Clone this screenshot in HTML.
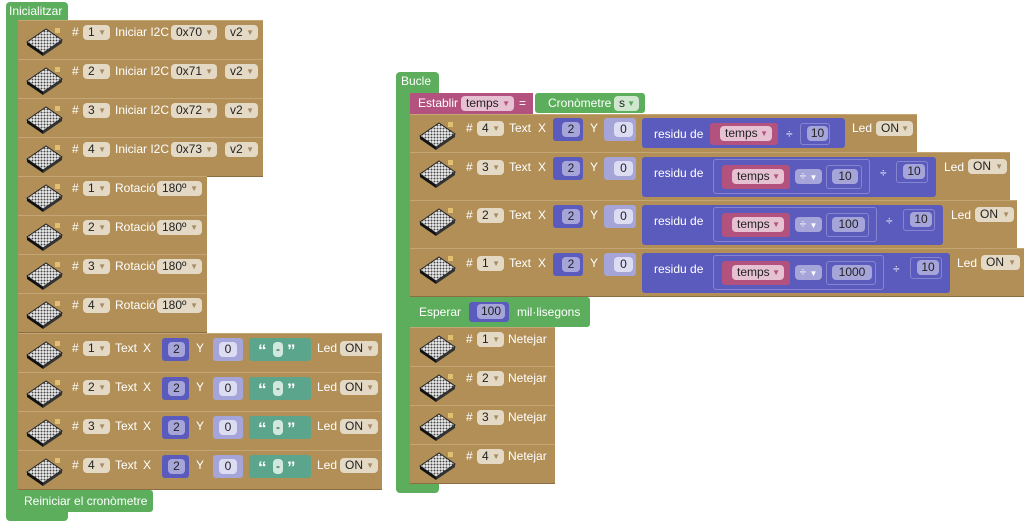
<!DOCTYPE html>
<html><head><meta charset="utf-8"><style>
body{margin:0;width:1024px;height:522px;background:#fff;position:relative;overflow:hidden;font-family:"Liberation Sans",sans-serif;font-size:12px;}
div{position:absolute;box-sizing:border-box;}
.g{background:#5cae5c;}
.br{background:#b18f57;border-bottom:1px solid #8a6e42;border-top:1px solid #c4a574;}
.t{color:#fff;white-space:nowrap;line-height:14px;}
.dd{background:#e4d9c4;color:#222;border-radius:4px;height:15px;line-height:15px;padding-left:5px;white-space:nowrap;}
.dd i{font-style:normal;color:#a58c67;font-size:8px;position:absolute;right:4px;top:0;}
.px{background:#5b5bbd;border-radius:3px;}
.lp{background:#a5a5d9;border-radius:3px;}
.in{background:#dcdcf3;color:#222;border-radius:4px;height:15px;line-height:15px;text-align:center;}
.pk{background:#b4527f;border-radius:3px;}
.pdd{background:#e6c1d2;color:#222;border-radius:4px;height:15px;line-height:15px;padding-left:5px;}
.pdd i{font-style:normal;color:#b4527f;font-size:8px;position:absolute;right:4px;top:0;}
.box{border:1px solid #8585cf;border-radius:3px;}
.tg{background:#5ba58c;border-radius:3px;}
.q{color:#fff;font-size:17px;font-weight:bold;line-height:14px;}
.ic{position:absolute;width:38px;height:32px;}
</style></head><body>
<svg width="0" height="0" style="position:absolute"><defs>
<pattern id="dp" width="3" height="3" patternUnits="userSpaceOnUse"><rect width="3" height="3" fill="#eee"/><circle cx="1.5" cy="1.5" r="1" fill="#444"/></pattern>
<symbol id="ic" viewBox="0 0 38 32"><polygon points="2,18 21,5 37,16 18,29" fill="url(#dp)" stroke="#222" stroke-width="1"/><polygon points="2,18 18,29 18,32 2,21" fill="#111"/><polygon points="18,29 37,16 37,19 18,32" fill="#333"/><rect x="30" y="4" width="5" height="5" fill="#e0c070"/></symbol>
</defs></svg>

<!-- LEFT: Inicialitzar -->
<div class="g" style="left:6px;top:2px;width:62px;height:20px;border-radius:4px 4px 0 0"></div>
<div class="t" style="left:9px;top:4px">Inicialitzar</div>
<div class="g" style="left:6px;top:20px;width:12px;height:500px;border-radius:0 0 0 4px"></div>
<div class="g" style="left:6px;top:511px;width:62px;height:10px;border-radius:0 0 4px 4px"></div>

<div class="br" style="left:18px;top:20px;width:245px;height:40px"></div>
<div class="br" style="left:18px;top:59px;width:245px;height:40px"></div>
<div class="br" style="left:18px;top:98px;width:245px;height:40px"></div>
<div class="br" style="left:18px;top:137px;width:245px;height:40px"></div>
<div class="br" style="left:18px;top:176px;width:189px;height:40px"></div>
<div class="br" style="left:18px;top:215px;width:189px;height:40px"></div>
<div class="br" style="left:18px;top:254px;width:189px;height:40px"></div>
<div class="br" style="left:18px;top:293px;width:189px;height:40px"></div>
<div class="br" style="left:18px;top:333px;width:364px;height:40px"></div>
<div class="br" style="left:18px;top:372px;width:364px;height:40px"></div>
<div class="br" style="left:18px;top:411px;width:364px;height:40px"></div>
<div class="br" style="left:18px;top:450px;width:364px;height:40px"></div>
<div class="g" style="left:18px;top:490px;width:135px;height:22px;border-radius:0 3px 3px 0"></div>
<div class="t" style="left:24px;top:494px">Reiniciar el cronòmetre</div>

<svg class="ic" style="left:25px;top:24px"><use href="#ic"/></svg>
<svg class="ic" style="left:25px;top:63px"><use href="#ic"/></svg>
<svg class="ic" style="left:25px;top:102px"><use href="#ic"/></svg>
<svg class="ic" style="left:25px;top:141px"><use href="#ic"/></svg>
<svg class="ic" style="left:25px;top:180px"><use href="#ic"/></svg>
<svg class="ic" style="left:25px;top:219px"><use href="#ic"/></svg>
<svg class="ic" style="left:25px;top:258px"><use href="#ic"/></svg>
<svg class="ic" style="left:25px;top:297px"><use href="#ic"/></svg>
<svg class="ic" style="left:25px;top:337px"><use href="#ic"/></svg>
<svg class="ic" style="left:25px;top:376px"><use href="#ic"/></svg>
<svg class="ic" style="left:25px;top:415px"><use href="#ic"/></svg>
<svg class="ic" style="left:25px;top:454px"><use href="#ic"/></svg>

<div class="t" style="left:72px;top:25px">#</div><div class="dd" style="left:83px;top:25px;width:27px">1<i>▼</i></div><div class="t" style="left:115px;top:25px">Iniciar I2C</div><div class="dd" style="left:171px;top:25px;width:46px">0x70<i>▼</i></div><div class="dd" style="left:225px;top:25px;width:33px">v2<i>▼</i></div>
<div class="t" style="left:72px;top:64px">#</div><div class="dd" style="left:83px;top:64px;width:27px">2<i>▼</i></div><div class="t" style="left:115px;top:64px">Iniciar I2C</div><div class="dd" style="left:171px;top:64px;width:46px">0x71<i>▼</i></div><div class="dd" style="left:225px;top:64px;width:33px">v2<i>▼</i></div>
<div class="t" style="left:72px;top:103px">#</div><div class="dd" style="left:83px;top:103px;width:27px">3<i>▼</i></div><div class="t" style="left:115px;top:103px">Iniciar I2C</div><div class="dd" style="left:171px;top:103px;width:46px">0x72<i>▼</i></div><div class="dd" style="left:225px;top:103px;width:33px">v2<i>▼</i></div>
<div class="t" style="left:72px;top:142px">#</div><div class="dd" style="left:83px;top:142px;width:27px">4<i>▼</i></div><div class="t" style="left:115px;top:142px">Iniciar I2C</div><div class="dd" style="left:171px;top:142px;width:46px">0x73<i>▼</i></div><div class="dd" style="left:225px;top:142px;width:33px">v2<i>▼</i></div>

<div class="t" style="left:72px;top:181px">#</div><div class="dd" style="left:83px;top:181px;width:27px">1<i>▼</i></div><div class="t" style="left:115px;top:181px">Rotació</div><div class="dd" style="left:157px;top:181px;width:45px">180º<i>▼</i></div>
<div class="t" style="left:72px;top:220px">#</div><div class="dd" style="left:83px;top:220px;width:27px">2<i>▼</i></div><div class="t" style="left:115px;top:220px">Rotació</div><div class="dd" style="left:157px;top:220px;width:45px">180º<i>▼</i></div>
<div class="t" style="left:72px;top:259px">#</div><div class="dd" style="left:83px;top:259px;width:27px">3<i>▼</i></div><div class="t" style="left:115px;top:259px">Rotació</div><div class="dd" style="left:157px;top:259px;width:45px">180º<i>▼</i></div>
<div class="t" style="left:72px;top:298px">#</div><div class="dd" style="left:83px;top:298px;width:27px">4<i>▼</i></div><div class="t" style="left:115px;top:298px">Rotació</div><div class="dd" style="left:157px;top:298px;width:45px">180º<i>▼</i></div>

<div class="t" style="left:72px;top:341px">#</div><div class="dd" style="left:83px;top:341px;width:27px">1<i>▼</i></div><div class="t" style="left:115px;top:341px">Text</div><div class="t" style="left:143px;top:341px">X</div>
<div class="px" style="left:162px;top:338px;width:27px;height:23px"></div><div class="in" style="left:168px;top:342px;width:17px;background:#a5a5d9">2</div>
<div class="t" style="left:196px;top:341px">Y</div><div class="lp" style="left:213px;top:338px;width:30px;height:23px"></div><div class="in" style="left:219px;top:342px;width:18px">0</div>
<div class="tg" style="left:249px;top:338px;width:62px;height:23px"></div><div class="q" style="left:258px;top:344px">“</div><div class="in" style="left:273px;top:342px;width:10px;background:#cfe9df">-</div><div class="q" style="left:287px;top:344px">”</div>
<div class="t" style="left:317px;top:341px">Led</div><div class="dd" style="left:340px;top:341px;width:38px">ON<i>▼</i></div>

<div class="t" style="left:72px;top:380px">#</div><div class="dd" style="left:83px;top:380px;width:27px">2<i>▼</i></div><div class="t" style="left:115px;top:380px">Text</div><div class="t" style="left:143px;top:380px">X</div>
<div class="px" style="left:162px;top:377px;width:27px;height:23px"></div><div class="in" style="left:168px;top:381px;width:17px;background:#a5a5d9">2</div>
<div class="t" style="left:196px;top:380px">Y</div><div class="lp" style="left:213px;top:377px;width:30px;height:23px"></div><div class="in" style="left:219px;top:381px;width:18px">0</div>
<div class="tg" style="left:249px;top:377px;width:62px;height:23px"></div><div class="q" style="left:258px;top:383px">“</div><div class="in" style="left:273px;top:381px;width:10px;background:#cfe9df">-</div><div class="q" style="left:287px;top:383px">”</div>
<div class="t" style="left:317px;top:380px">Led</div><div class="dd" style="left:340px;top:380px;width:38px">ON<i>▼</i></div>

<div class="t" style="left:72px;top:419px">#</div><div class="dd" style="left:83px;top:419px;width:27px">3<i>▼</i></div><div class="t" style="left:115px;top:419px">Text</div><div class="t" style="left:143px;top:419px">X</div>
<div class="px" style="left:162px;top:416px;width:27px;height:23px"></div><div class="in" style="left:168px;top:420px;width:17px;background:#a5a5d9">2</div>
<div class="t" style="left:196px;top:419px">Y</div><div class="lp" style="left:213px;top:416px;width:30px;height:23px"></div><div class="in" style="left:219px;top:420px;width:18px">0</div>
<div class="tg" style="left:249px;top:416px;width:62px;height:23px"></div><div class="q" style="left:258px;top:422px">“</div><div class="in" style="left:273px;top:420px;width:10px;background:#cfe9df">-</div><div class="q" style="left:287px;top:422px">”</div>
<div class="t" style="left:317px;top:419px">Led</div><div class="dd" style="left:340px;top:419px;width:38px">ON<i>▼</i></div>

<div class="t" style="left:72px;top:458px">#</div><div class="dd" style="left:83px;top:458px;width:27px">4<i>▼</i></div><div class="t" style="left:115px;top:458px">Text</div><div class="t" style="left:143px;top:458px">X</div>
<div class="px" style="left:162px;top:455px;width:27px;height:23px"></div><div class="in" style="left:168px;top:459px;width:17px;background:#a5a5d9">2</div>
<div class="t" style="left:196px;top:458px">Y</div><div class="lp" style="left:213px;top:455px;width:30px;height:23px"></div><div class="in" style="left:219px;top:459px;width:18px">0</div>
<div class="tg" style="left:249px;top:455px;width:62px;height:23px"></div><div class="q" style="left:258px;top:461px">“</div><div class="in" style="left:273px;top:459px;width:10px;background:#cfe9df">-</div><div class="q" style="left:287px;top:461px">”</div>
<div class="t" style="left:317px;top:458px">Led</div><div class="dd" style="left:340px;top:458px;width:38px">ON<i>▼</i></div>

<!-- RIGHT: Bucle -->
<div class="g" style="left:396px;top:72px;width:43px;height:21px;border-radius:4px 4px 0 0"></div>
<div class="t" style="left:401px;top:74px">Bucle</div>
<div class="g" style="left:396px;top:90px;width:14px;height:402px;border-radius:0 0 0 4px"></div>
<div class="g" style="left:396px;top:483px;width:43px;height:10px;border-radius:0 0 4px 4px"></div>

<div class="pk" style="left:410px;top:93px;width:123px;height:21px;border-radius:0"></div>
<div class="t" style="left:418px;top:96px">Establir</div><div class="pdd" style="left:461px;top:96px;width:53px">temps<i>▼</i></div><div class="t" style="left:519px;top:96px">=</div>
<div class="g" style="left:535px;top:93px;width:110px;height:20px;border-radius:3px"></div>
<div class="t" style="left:548px;top:96px">Cronòmetre</div><div class="dd" style="left:614px;top:96px;width:25px;background:#cfe6cf">s<i style="color:#5ba55b">▼</i></div>

<div class="br" style="left:410px;top:114px;width:507px;height:39px"></div>
<div class="br" style="left:410px;top:152px;width:600px;height:49px"></div>
<div class="br" style="left:410px;top:200px;width:607px;height:49px"></div>
<div class="br" style="left:410px;top:248px;width:614px;height:49px"></div>
<div class="g" style="left:410px;top:297px;width:180px;height:30px;border-radius:0 3px 3px 0"></div>
<div class="br" style="left:410px;top:327px;width:145px;height:40px"></div>
<div class="br" style="left:410px;top:366px;width:145px;height:40px"></div>
<div class="br" style="left:410px;top:405px;width:145px;height:40px"></div>
<div class="br" style="left:410px;top:444px;width:145px;height:40px"></div>

<svg class="ic" style="left:418px;top:118px"><use href="#ic"/></svg>
<svg class="ic" style="left:418px;top:156px"><use href="#ic"/></svg>
<svg class="ic" style="left:418px;top:204px"><use href="#ic"/></svg>
<svg class="ic" style="left:418px;top:252px"><use href="#ic"/></svg>
<svg class="ic" style="left:418px;top:331px"><use href="#ic"/></svg>
<svg class="ic" style="left:418px;top:370px"><use href="#ic"/></svg>
<svg class="ic" style="left:418px;top:409px"><use href="#ic"/></svg>
<svg class="ic" style="left:418px;top:448px"><use href="#ic"/></svg>

<div class="t" style="left:466px;top:121px">#</div><div class="dd" style="left:477px;top:121px;width:27px">4<i>▼</i></div><div class="t" style="left:509px;top:121px">Text</div><div class="t" style="left:538px;top:121px">X</div>
<div class="px" style="left:553px;top:118px;width:30px;height:23px"></div><div class="in" style="left:562px;top:122px;width:18px;background:#a5a5d9">2</div>
<div class="t" style="left:590px;top:121px">Y</div><div class="lp" style="left:604px;top:118px;width:32px;height:23px"></div><div class="in" style="left:614px;top:122px;width:19px">0</div>
<div class="px" style="left:642px;top:118px;width:203px;height:30px"></div><div class="t" style="left:654px;top:127px">residu de</div>
<div class="pk" style="left:710px;top:123px;width:68px;height:22px"></div><div class="pdd" style="left:720px;top:126px;width:52px">temps<i>▼</i></div>
<div class="t" style="left:786px;top:127px">÷</div><div class="box" style="left:800px;top:123px;width:30px;height:22px"></div><div class="in" style="left:807px;top:126px;width:21px;background:#a5a5d9">10</div>
<div class="t" style="left:852px;top:121px">Led</div><div class="dd" style="left:876px;top:121px;width:37px">ON<i>▼</i></div>

<div class="t" style="left:466px;top:160px">#</div><div class="dd" style="left:477px;top:160px;width:27px">3<i>▼</i></div><div class="t" style="left:509px;top:160px">Text</div><div class="t" style="left:538px;top:160px">X</div>
<div class="px" style="left:553px;top:157px;width:30px;height:23px"></div><div class="in" style="left:562px;top:161px;width:18px;background:#a5a5d9">2</div>
<div class="t" style="left:590px;top:160px">Y</div><div class="lp" style="left:604px;top:157px;width:32px;height:23px"></div><div class="in" style="left:614px;top:161px;width:19px">0</div>
<div class="px" style="left:642px;top:157px;width:294px;height:40px"></div><div class="t" style="left:654px;top:166px">residu de</div>
<div class="box" style="left:713px;top:159px;width:157px;height:35px"></div>
<div class="pk" style="left:722px;top:165px;width:68px;height:24px"></div><div class="pdd" style="left:732px;top:169px;width:52px">temps<i>▼</i></div>
<div class="in" style="left:795px;top:169px;width:27px;background:#a5a5d9;color:#fff">÷ <span style="font-size:8px">▼</span></div>
<div class="box" style="left:826px;top:165px;width:36px;height:24px"></div><div class="in" style="left:832px;top:169px;width:26px;background:#a5a5d9">10</div>
<div class="t" style="left:880px;top:166px">÷</div><div class="box" style="left:896px;top:161px;width:32px;height:22px"></div><div class="in" style="left:903px;top:164px;width:22px;background:#a5a5d9">10</div>
<div class="t" style="left:944px;top:160px">Led</div><div class="dd" style="left:968px;top:159px;width:39px">ON<i>▼</i></div>

<div class="t" style="left:466px;top:208px">#</div><div class="dd" style="left:477px;top:208px;width:27px">2<i>▼</i></div><div class="t" style="left:509px;top:208px">Text</div><div class="t" style="left:538px;top:208px">X</div>
<div class="px" style="left:553px;top:205px;width:30px;height:23px"></div><div class="in" style="left:562px;top:209px;width:18px;background:#a5a5d9">2</div>
<div class="t" style="left:590px;top:208px">Y</div><div class="lp" style="left:604px;top:205px;width:32px;height:23px"></div><div class="in" style="left:614px;top:209px;width:19px">0</div>
<div class="px" style="left:642px;top:205px;width:301px;height:40px"></div><div class="t" style="left:654px;top:214px">residu de</div>
<div class="box" style="left:713px;top:207px;width:164px;height:35px"></div>
<div class="pk" style="left:722px;top:213px;width:68px;height:24px"></div><div class="pdd" style="left:732px;top:217px;width:52px">temps<i>▼</i></div>
<div class="in" style="left:795px;top:217px;width:27px;background:#a5a5d9;color:#fff">÷ <span style="font-size:8px">▼</span></div>
<div class="box" style="left:826px;top:213px;width:43px;height:24px"></div><div class="in" style="left:832px;top:217px;width:33px;background:#a5a5d9">100</div>
<div class="t" style="left:886px;top:214px">÷</div><div class="box" style="left:903px;top:209px;width:32px;height:22px"></div><div class="in" style="left:910px;top:212px;width:22px;background:#a5a5d9">10</div>
<div class="t" style="left:951px;top:208px">Led</div><div class="dd" style="left:975px;top:207px;width:39px">ON<i>▼</i></div>

<div class="t" style="left:466px;top:256px">#</div><div class="dd" style="left:477px;top:256px;width:27px">1<i>▼</i></div><div class="t" style="left:509px;top:256px">Text</div><div class="t" style="left:538px;top:256px">X</div>
<div class="px" style="left:553px;top:253px;width:30px;height:23px"></div><div class="in" style="left:562px;top:257px;width:18px;background:#a5a5d9">2</div>
<div class="t" style="left:590px;top:256px">Y</div><div class="lp" style="left:604px;top:253px;width:32px;height:23px"></div><div class="in" style="left:614px;top:257px;width:19px">0</div>
<div class="px" style="left:642px;top:253px;width:308px;height:40px"></div><div class="t" style="left:654px;top:262px">residu de</div>
<div class="box" style="left:713px;top:255px;width:171px;height:35px"></div>
<div class="pk" style="left:722px;top:261px;width:68px;height:24px"></div><div class="pdd" style="left:732px;top:265px;width:52px">temps<i>▼</i></div>
<div class="in" style="left:795px;top:265px;width:27px;background:#a5a5d9;color:#fff">÷ <span style="font-size:8px">▼</span></div>
<div class="box" style="left:826px;top:261px;width:50px;height:24px"></div><div class="in" style="left:832px;top:265px;width:40px;background:#a5a5d9">1000</div>
<div class="t" style="left:893px;top:262px">÷</div><div class="box" style="left:910px;top:257px;width:32px;height:22px"></div><div class="in" style="left:917px;top:260px;width:22px;background:#a5a5d9">10</div>
<div class="t" style="left:957px;top:256px">Led</div><div class="dd" style="left:981px;top:255px;width:39px">ON<i>▼</i></div>

<div class="t" style="left:419px;top:305px">Esperar</div>
<div class="px" style="left:469px;top:302px;width:40px;height:20px"></div><div class="in" style="left:477px;top:304px;width:28px;background:#a5a5d9">100</div>
<div class="t" style="left:517px;top:305px">mil·lisegons</div>

<div class="t" style="left:466px;top:332px">#</div><div class="dd" style="left:477px;top:332px;width:27px">1<i>▼</i></div><div class="t" style="left:508px;top:332px">Netejar</div>
<div class="t" style="left:466px;top:371px">#</div><div class="dd" style="left:477px;top:371px;width:27px">2<i>▼</i></div><div class="t" style="left:508px;top:371px">Netejar</div>
<div class="t" style="left:466px;top:410px">#</div><div class="dd" style="left:477px;top:410px;width:27px">3<i>▼</i></div><div class="t" style="left:508px;top:410px">Netejar</div>
<div class="t" style="left:466px;top:449px">#</div><div class="dd" style="left:477px;top:449px;width:27px">4<i>▼</i></div><div class="t" style="left:508px;top:449px">Netejar</div>
</body></html>
